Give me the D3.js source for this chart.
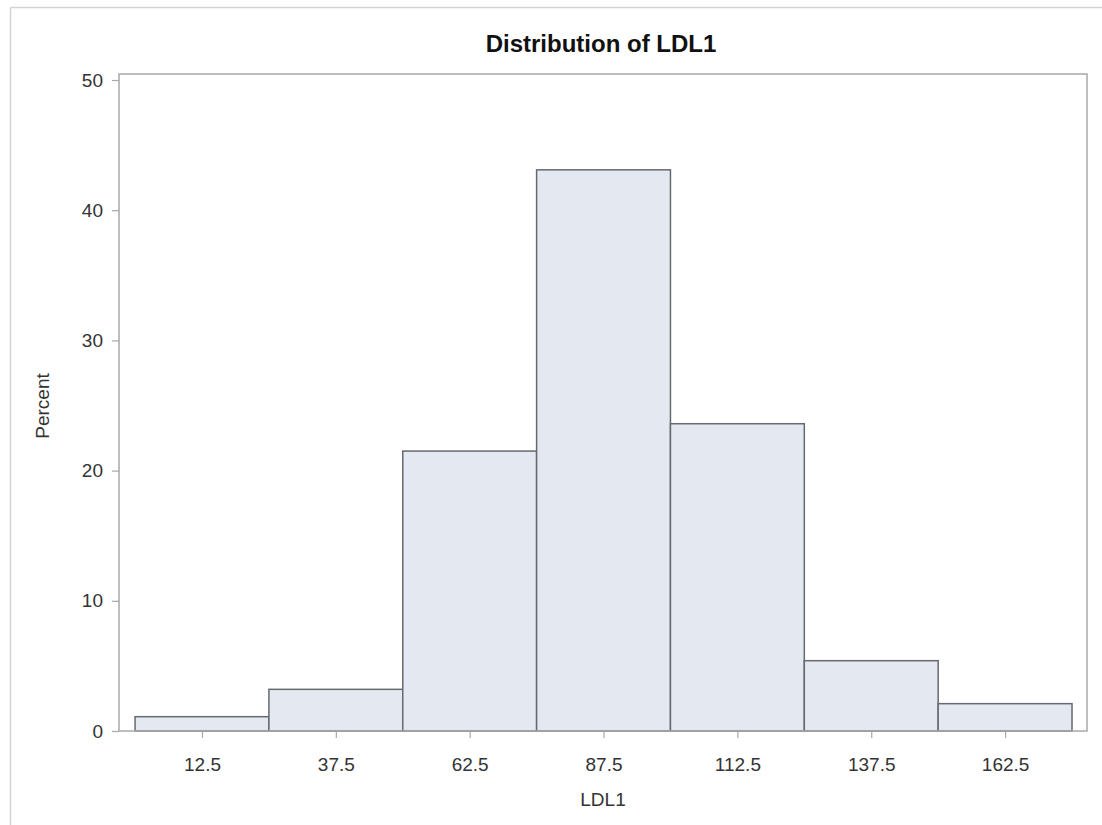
<!DOCTYPE html>
<html>
<head>
<meta charset="utf-8">
<script src="https://cdn.jsdelivr.net/npm/d3@7"></script>
<style>
  body { margin: 0; background: #fff; }
  svg { display: block; }
</style>
</head>
<body>
<svg id="chart" width="1102" height="825"></svg>
<script>
const binStarts = [0, 25, 50, 75, 100, 125, 150];
const binWidth = 25;
const percents = [1.1, 3.2, 21.5, 43.1, 23.6, 5.4, 2.1];
const xTickLabels = ["12.5", "37.5", "62.5", "87.5", "112.5", "137.5", "162.5"];
const yTickValues = [0, 10, 20, 30, 40, 50];

const svg = d3.select("#chart");
const W = 1102, H = 825;
const FONT = "'Liberation Sans', Arial, sans-serif";

const plot = { left: 119, right: 1087, top: 74, bottom: 731 };

const x = d3.scaleLinear().domain([-3, 177.8]).range([plot.left, plot.right]);
const y = d3.scaleLinear().domain([0, 50]).range([plot.bottom, 80]);

// outer frame lines
svg.append("line").attr("x1", 10.5).attr("x2", W).attr("y1", 7.5).attr("y2", 7.5)
  .attr("stroke", "#d4d4d4").attr("stroke-width", 1.5);
svg.append("line").attr("x1", 10.5).attr("x2", 10.5).attr("y1", 7.5).attr("y2", H)
  .attr("stroke", "#d4d4d4").attr("stroke-width", 1.5);

// bars
const data = binStarts.map((s, i) => ({ s, v: percents[i] }));
svg.append("g").selectAll("rect").data(data).join("rect")
  .attr("x", d => x(d.s))
  .attr("width", d => x(d.s + binWidth) - x(d.s))
  .attr("y", d => y(d.v))
  .attr("height", d => y(0) - y(d.v))
  .attr("fill", "#e4e8f1")
  .attr("stroke", "#666a70")
  .attr("stroke-width", 1.5);

// plot frame
svg.append("rect")
  .attr("x", plot.left).attr("y", plot.top)
  .attr("width", plot.right - plot.left).attr("height", plot.bottom - plot.top)
  .attr("fill", "none").attr("stroke", "#a8a8a8").attr("stroke-width", 1.5);

// y axis
const yAxis = d3.axisLeft(y).tickValues(yTickValues).tickSize(7).tickPadding(9).tickFormat(d3.format("d"));
const gy = svg.append("g").attr("transform", `translate(${plot.left},0)`).call(yAxis);
gy.select(".domain").remove();
gy.selectAll(".tick line").attr("stroke", "#a8a8a8").attr("stroke-width", 1.2);
gy.selectAll(".tick text").attr("fill", "#333").style("font-family", FONT).style("font-size", "19px");

// x axis
const xTickVals = binStarts.map(s => s + binWidth / 2);
const xAxis = d3.axisBottom(x).tickValues(xTickVals).tickSize(7).tickPadding(20)
  .tickFormat((d, i) => xTickLabels[i]);
const gx = svg.append("g").attr("transform", `translate(0,${plot.bottom})`).call(xAxis);
gx.select(".domain").remove();
gx.selectAll(".tick line").attr("stroke", "#a8a8a8").attr("stroke-width", 1.2);
gx.selectAll(".tick text").attr("fill", "#333").style("font-family", FONT).style("font-size", "19px");

// title
svg.append("text").attr("x", 601).attr("y", 52).attr("text-anchor", "middle")
  .style("font-family", FONT).style("font-weight", "bold")
  .style("font-size", "24px").attr("fill", "#111").text("Distribution of LDL1");

// axis labels
svg.append("text").attr("x", 603).attr("y", 806).attr("text-anchor", "middle")
  .style("font-family", FONT).style("font-size", "19px")
  .attr("fill", "#333").text("LDL1");
svg.append("text").attr("transform", "translate(49,406) rotate(-90)").attr("text-anchor", "middle")
  .style("font-family", FONT).style("font-size", "19px")
  .attr("fill", "#333").text("Percent");
</script>
</body>
</html>
